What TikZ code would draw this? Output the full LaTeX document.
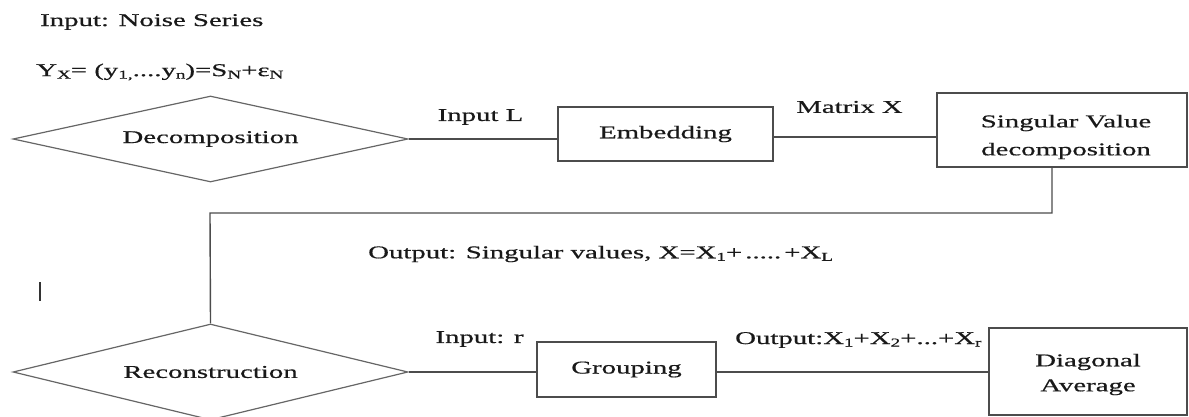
\documentclass[tikz,border=0pt]{standalone}
\usepackage{fontspec}
\setmainfont{Liberation Serif}[FakeStretch=1.6,FakeBold=0.6]
\usetikzlibrary{shapes.geometric}
\newcommand{\lowsub}[1]{\raisebox{-0.3ex}{\fontsize{12}{12}\selectfont #1}}
\begin{document}
\begin{tikzpicture}[x=1pt,y=-1pt,
  every node/.style={font=\fontsize{18}{22}\selectfont, text=black!90},
  conn/.style={draw=black!70, line width=1.4pt},
  stepbox/.style={draw=black!70, line width=1.4pt, rectangle, inner sep=0pt},
  decision/.style={draw=black!60, line width=1.2pt, diamond, aspect=4.6, inner sep=0pt},
  lbl/.style={inner sep=0pt}]
\useasboundingbox (0,0) rectangle (1189,417);
\fill[white] (0,0) rectangle (1189,417);

% texts at top
\node[lbl, anchor=west] (inp) at (40,22) {Input: Noise Series};
\node[lbl, anchor=west] (yx) at (36,72) {Y\lowsub{X}= (y\lowsub{1,}....y\lowsub{n})=S\lowsub{N}+ε\lowsub{N}};

% shapes
\node[decision, minimum width=395, minimum height=86] (dec) at (210.5,139) {Decomposition};
\node[stepbox, minimum width=215, minimum height=54] (emb) at (665.5,134) {Embedding};
\node[stepbox, minimum width=250, minimum height=74] (svd) at (1062,130) {};
\node[lbl, align=center, font=\fontsize{18}{28}\selectfont] (svdt) at (1066,137) {Singular Value\\decomposition};

\node[decision, minimum width=395, minimum height=96] (rec) at (210.5,372) {Reconstruction};
\node[stepbox, minimum width=179, minimum height=55] (grp) at (626.5,369.5) {Grouping};
\node[stepbox, minimum width=198, minimum height=87] (dia) at (1088,371.5) {};
\node[lbl, align=center, font=\fontsize{18}{25}\selectfont] (diat) at (1088,374.5) {Diagonal\\Average};

% labels
\node[lbl] (inL) at (480.5,117) {Input L};
\node[lbl] (matx) at (849.5,107) {Matrix X};
\node[lbl, anchor=west] (outsv) at (368,254) {Output: Singular values, X=X\lowsub{1}+\,.....\,+X\lowsub{L}};
\node[lbl] (inr) at (479.5,339) {Input: r};
\node[lbl, anchor=west] (outx) at (735,340) {Output:X\lowsub{1}+X\lowsub{2}+...+X\lowsub{r}};

% connectors
\draw[conn] (dec.east) -- (dec.east -| emb.west);
\draw[conn] ([yshift=-3pt]emb.east) -- ([yshift=-3pt]emb.east -| svd.west);
\coordinate (bend) at (210,213);
\draw[conn] ([xshift=-10pt]svd.south) |- (bend) -- (rec.north);
\draw[conn] (rec.east) -- (rec.east -| grp.west);
\draw[conn] (grp.east |- rec.east) -- (rec.east -| dia.west);

% stray mark
\draw[black!80, line width=1.2pt] (40,282) -- (40,301);
\end{tikzpicture}
\end{document}
